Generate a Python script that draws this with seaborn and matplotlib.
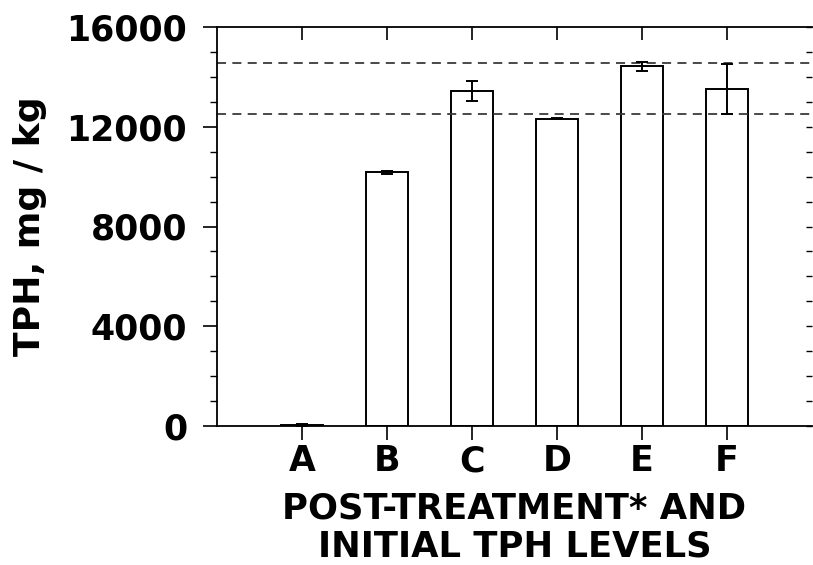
import matplotlib
matplotlib.use("Agg")
import matplotlib.pyplot as plt
import seaborn as sns
import pandas as pd
import numpy as np
from matplotlib.ticker import MultipleLocator

categories = ["A", "B", "C", "D", "E", "F"]
tph_values = [40, 10170, 13450, 12320, 14420, 13500]
tph_errors = [30, 70, 400, 20, 180, 1000]
reference_levels = [14550, 12520]
y_ticks = [0, 4000, 8000, 12000, 16000]

sns.set_theme(style="white")
plt.rcParams["font.family"] = ["DejaVu Sans"]
plt.rcParams["font.weight"] = "bold"
plt.rcParams["text.color"] = "black"
plt.rcParams["axes.labelcolor"] = "black"
plt.rcParams["xtick.color"] = "black"
plt.rcParams["ytick.color"] = "black"

df = pd.DataFrame({"category": categories, "tph": tph_values})

fig = plt.figure(figsize=(8.13, 5.65), dpi=100)
ax = fig.add_axes([217 / 813, 1 - 426 / 565, 595 / 813, 399 / 565])

sns.barplot(data=df, x="category", y="tph", color="white", edgecolor="black",
            linewidth=1.4, width=0.5, errorbar=None, ax=ax, saturation=1)
ax.errorbar(x=np.arange(len(categories)), y=tph_values, yerr=tph_errors,
            fmt="none", ecolor="black", elinewidth=1.4, capsize=4, capthick=1.4,
            zorder=5)

for lvl in reference_levels:
    ax.axhline(lvl, color="#3a3a3a", linestyle=(0, (5, 3.5)), linewidth=1.3, zorder=1)

ax.set_xlim(-1, 6)
ax.set_ylim(0, 16000)
ax.set_yticks(y_ticks)
ax.set_yticklabels([str(v) for v in y_ticks])
ax.yaxis.set_minor_locator(MultipleLocator(1000))

for side in ["left", "bottom", "top"]:
    ax.spines[side].set_visible(True)
    ax.spines[side].set_color("black")
    ax.spines[side].set_linewidth(1.3)
ax.spines["right"].set_visible(False)

ax.tick_params(axis="y", which="major", direction="out", length=10, width=1.2,
               left=True, right=False, labelsize=25, pad=11.5, color="black",
               labelcolor="black")
ax.tick_params(axis="y", which="minor", direction="out", length=5, width=1.0,
               left=True, right=False, color="black")
ax.tick_params(axis="x", which="major", direction="out", length=10, width=1.2,
               bottom=True, top=False, labelsize=25, pad=3, color="black",
               labelcolor="black")

# top axis: inward ticks at categories
sec_x = ax.secondary_xaxis("top")
sec_x.set_xticks(np.arange(len(categories)))
sec_x.tick_params(direction="in", length=9, width=1.2, labeltop=False, color="black")
sec_x.spines["top"].set_visible(False)

# right axis: small inward ticks every 1000
sec_y = ax.secondary_yaxis("right")
sec_y.set_yticks(np.arange(0, 16001, 1000))
sec_y.tick_params(direction="in", length=4, width=1.0, labelright=False, color="black")
sec_y.spines["right"].set_visible(False)

for lab in ax.get_xticklabels() + ax.get_yticklabels():
    lab.set_fontweight("bold")

ax.set_ylabel("TPH, mg / kg", fontsize=26, fontweight="bold", labelpad=14,
              color="black")
ax.set_xlabel("POST-TREATMENT* AND\nINITIAL TPH LEVELS", fontsize=25.5,
              fontweight="bold", labelpad=10, linespacing=1.15, color="black")

fig.savefig("out.png", dpi=100, facecolor="white")
